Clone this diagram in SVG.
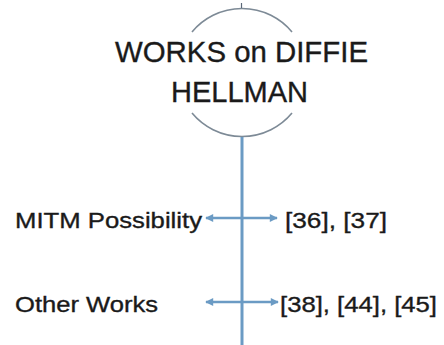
<svg xmlns="http://www.w3.org/2000/svg" width="444" height="345" viewBox="0 0 444 345">
  <style>
    .txt { font-family: "Liberation Sans", Arial, sans-serif; fill: #1a1a1a; stroke: #1a1a1a; stroke-width: 0.35; }
    .title { font-size: 29px; }
    .label { font-size: 22px; }
    .arc { fill: none; stroke: #7d8a96; stroke-width: 1.6; }
    .stem { stroke: #6b9bc4; stroke-width: 3; fill: none; }
    .branch { stroke: #6b9bc4; stroke-width: 2.5; fill: none; }
  </style>
  <defs>
    <marker id="head" viewBox="0 0 10 10" refX="9" refY="5" markerWidth="3.6" markerHeight="3.2" orient="auto-start-reverse" markerUnits="strokeWidth">
      <path d="M0,0 L10,5 L0,10 z" fill="#6b9bc4"/>
    </marker>
  </defs>

  <rect width="444" height="345" fill="#ffffff"/>

  <!-- root node: title inside an open circle -->
  <g id="root">
    <path class="arc" d="M192,32 A65,65 0 0 1 292,32"/>
    <path class="arc" d="M192,113 A65,65 0 0 0 292,113"/>
    <line x1="241.5" y1="3" x2="241.5" y2="8" stroke="#5a6878" stroke-width="1.2"/>
    <text class="txt title" x="115" y="62" textLength="253" lengthAdjust="spacingAndGlyphs">WORKS on DIFFIE</text>
    <text class="txt title" x="171" y="102" textLength="137" lengthAdjust="spacingAndGlyphs">HELLMAN</text>
  </g>

  <!-- connectors -->
  <g id="connectors">
    <line class="stem" x1="242" y1="137" x2="242" y2="345"/>
    <line class="branch" x1="206" y1="218" x2="277" y2="218" marker-start="url(#head)" marker-end="url(#head)"/>
    <line class="branch" x1="206" y1="302" x2="278" y2="302" marker-start="url(#head)" marker-end="url(#head)"/>
  </g>

  <g id="mitm">
    <text class="txt label" x="15" y="228" textLength="187" lengthAdjust="spacingAndGlyphs">MITM Possibility</text>
  </g>
  <g id="mitm-refs">
    <text class="txt label" x="285" y="228" textLength="102" lengthAdjust="spacingAndGlyphs">[36], [37]</text>
  </g>

  <g id="other">
    <text class="txt label" x="15" y="312" textLength="143" lengthAdjust="spacingAndGlyphs">Other Works</text>
  </g>
  <g id="other-refs">
    <text class="txt label" x="280" y="312" textLength="157" lengthAdjust="spacingAndGlyphs">[38], [44], [45]</text>
  </g>
</svg>
